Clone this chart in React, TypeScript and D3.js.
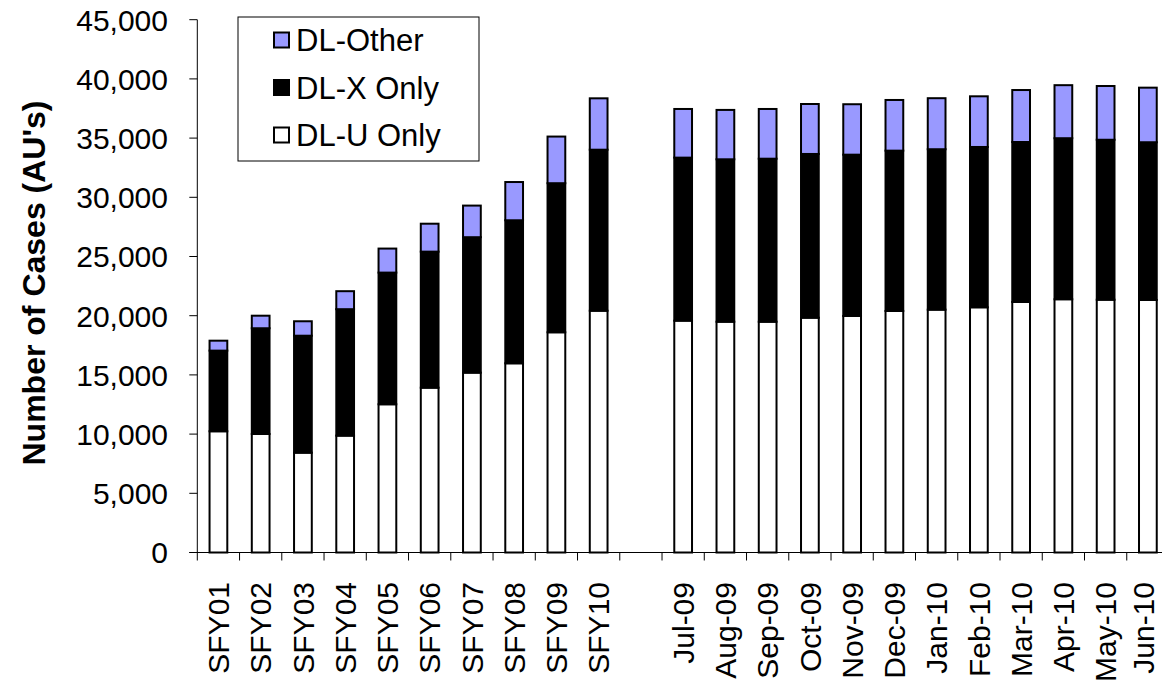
import React, { useEffect, useRef } from 'react';
import * as d3 from 'd3';

const categories = [
  'SFY01', 'SFY02', 'SFY03', 'SFY04', 'SFY05', 'SFY06', 'SFY07', 'SFY08', 'SFY09', 'SFY10',
  '',
  'Jul-09', 'Aug-09', 'Sep-09', 'Oct-09', 'Nov-09', 'Dec-09',
  'Jan-10', 'Feb-10', 'Mar-10', 'Apr-10', 'May-10', 'Jun-10',
];

// values per category, null = gap column
const dlUOnly = [
  10240, 10010, 8430, 9870, 12520, 13920, 15190, 15980, 18600, 20420,
  null,
  19580, 19490, 19490, 19830, 19980, 20400, 20510, 20710, 21160, 21390, 21350, 21330,
];
const dlXOnly = [
  6810, 8930, 9880, 10680, 11120, 11490, 11440, 12080, 12590, 13600,
  null,
  13770, 13720, 13770, 13830, 13620, 13540, 13550, 13540, 13510, 13600, 13510, 13320,
];
const dlOther = [
  840, 1060, 1220, 1520, 2030, 2360, 2670, 3230, 3940, 4340,
  null,
  4110, 4170, 4200, 4220, 4260, 4280, 4310, 4280, 4390, 4480, 4540, 4610,
];

const yTicks = [0, 5000, 10000, 15000, 20000, 25000, 30000, 35000, 40000, 45000];

const seriesKeys = ['u', 'x', 'o'];
const seriesFill = { u: '#ffffff', x: '#000000', o: '#9999ff' };
const legendItems = [
  { key: 'o', label: 'DL-Other' },
  { key: 'x', label: 'DL-X Only' },
  { key: 'u', label: 'DL-U Only' },
];

const W = 1162;
const H = 685;
const FONT = 'Liberation Sans, Arial, sans-serif';

const App = () => {
  const svgRef = useRef<SVGSVGElement>(null);

  useEffect(() => {
    const svg = d3.select(svgRef.current);
    svg.selectAll('*').remove();

    const left = 197.3;
    const right = 1169;
    const bottom = 552.5;
    const top = 19.7;

    const x = d3.scaleBand<string>()
      .domain(categories)
      .range([left, right])
      .paddingInner(0.58)
      .paddingOuter(0.29);
    const step = x.step();

    const y = d3.scaleLinear().domain([0, 45000]).range([bottom, top]);

    const rows = categories.map((c, i) => ({
      cat: c,
      blank: dlUOnly[i] == null,
      u: dlUOnly[i] ?? 0,
      x: dlXOnly[i] ?? 0,
      o: dlOther[i] ?? 0,
    }));

    const stacked = d3.stack<any>().keys(seriesKeys)(rows);

    // bars
    stacked.forEach((layer) => {
      svg.append('g')
        .selectAll('rect')
        .data(layer.filter((d) => !d.data.blank))
        .enter().append('rect')
        .attr('x', (d) => x(d.data.cat)!)
        .attr('y', (d) => y(d[1]))
        .attr('width', x.bandwidth())
        .attr('height', (d) => y(d[0]) - y(d[1]))
        .attr('fill', (seriesFill as any)[layer.key])
        .attr('stroke', '#000')
        .attr('stroke-width', 2);
    });

    // y axis
    const yAxis = svg.append('g');
    yAxis.append('line')
      .attr('x1', left).attr('x2', left)
      .attr('y1', top).attr('y2', bottom)
      .attr('stroke', '#000').attr('stroke-width', 1);
    yTicks.forEach((t) => {
      yAxis.append('line')
        .attr('x1', left - 8).attr('x2', left)
        .attr('y1', y(t)).attr('y2', y(t))
        .attr('stroke', '#000');
      yAxis.append('text')
        .attr('x', 168)
        .attr('y', y(t))
        .attr('dy', '0.36em')
        .attr('text-anchor', 'end')
        .attr('font-family', FONT)
        .attr('font-size', 30)
        .attr('fill', '#000')
        .text(d3.format(',')(t));
    });

    // x axis
    const xAxis = svg.append('g');
    xAxis.append('line')
      .attr('x1', left - 8).attr('x2', W)
      .attr('y1', bottom).attr('y2', bottom)
      .attr('stroke', '#000');
    d3.range(categories.length + 1).forEach((k) => {
      const tx = left + k * step;
      xAxis.append('line')
        .attr('x1', tx).attr('x2', tx)
        .attr('y1', bottom).attr('y2', bottom + 8)
        .attr('stroke', '#000');
    });
    categories.forEach((c) => {
      const cx = Math.min(x(c)! + x.bandwidth() / 2, 1143);
      xAxis.append('text')
        .attr('transform', `translate(${cx},${582}) rotate(-90)`)
        .attr('dy', '0.36em')
        .attr('text-anchor', 'end')
        .attr('font-family', FONT)
        .attr('font-size', 30)
        .attr('fill', '#000')
        .text(c);
    });

    // y title
    svg.append('text')
      .attr('transform', 'translate(45,283) rotate(-90)')
      .attr('text-anchor', 'middle')
      .attr('font-family', FONT)
      .attr('font-size', 32)
      .attr('font-weight', 'bold')
      .attr('fill', '#000')
      .text("Number of Cases (AU's)");

    // legend
    const lg = svg.append('g');
    lg.append('rect')
      .attr('x', 238).attr('y', 17)
      .attr('width', 241).attr('height', 144)
      .attr('fill', '#fff')
      .attr('stroke', '#000');
    legendItems.forEach((item, i) => {
      const cy = 40 + i * 47.5;
      lg.append('rect')
        .attr('x', 274).attr('y', cy - 7.5)
        .attr('width', 15).attr('height', 15)
        .attr('fill', (seriesFill as any)[item.key])
        .attr('stroke', '#000')
        .attr('stroke-width', 2);
      lg.append('text')
        .attr('x', 296)
        .attr('y', cy)
        .attr('dy', '0.36em')
        .attr('font-family', FONT)
        .attr('font-size', 31)
        .attr('fill', '#000')
        .text(item.label);
    });
  }, []);

  return (
    <svg
      ref={svgRef}
      width={W}
      height={H}
      style={{ position: 'absolute', left: 0, top: 0, background: '#fff' }}
    />
  );
};

export default App;
